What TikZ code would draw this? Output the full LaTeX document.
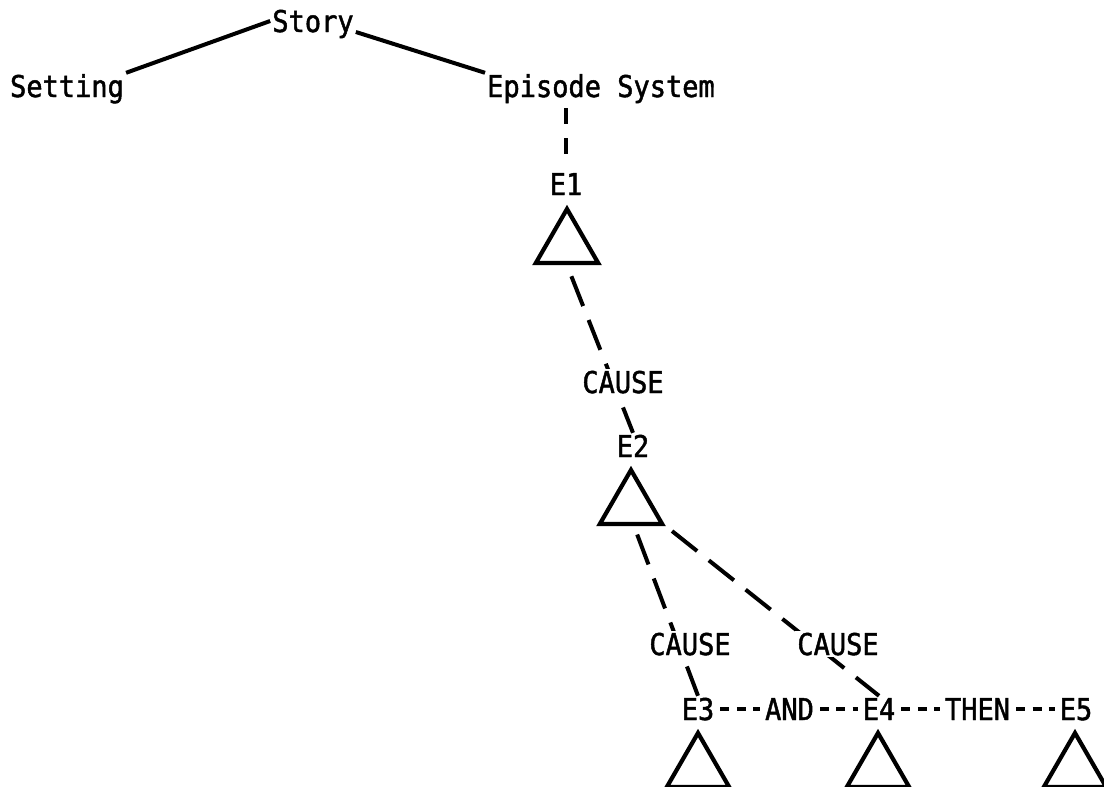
\documentclass[tikz,border=0pt]{standalone}
\usepackage{fontspec}
\setmainfont{DejaVu Sans Mono}[FakeStretch=0.9, FakeBold=1.5]
\usetikzlibrary{shapes.geometric}

\begin{document}
\begin{tikzpicture}[x=1pt,y=-1pt,
    lbl/.style={font=\fontsize{30}{34}\selectfont, text height=22pt, text depth=0pt, inner sep=2pt, anchor=base},
    tri/.style={draw, regular polygon, regular polygon sides=3, minimum size=72pt, inner sep=0pt, line width=4.2pt},
    link/.style={line width=4pt, dash pattern=on 32pt off 15pt},
    hyph/.style={line width=3.8pt, dash pattern=on 9pt off 7.3pt, shorten <=4pt, shorten >=3pt}]
    \useasboundingbox (0,0) rectangle (1104,787);

    % Top of the tree
    \node[lbl] (story) at (313,32) {Story};
    \node[lbl] (setting) at (67,97) {Setting};
    \node[lbl] (episodes) at (601,97) {Episode System};
    \draw[line width=4pt] (setting.north east) -- (story.west);
    \draw[line width=4pt] (story.base east) -- (episodes.north west);

    % Episodes and their triangles
    \node[lbl] (e1) at (566,195) {E1};
    \node[tri] (t1) at (567,245) {};
    \node[lbl] (e2) at (633,457) {E2};
    \node[tri] (t2) at (631,506) {};
    \node[lbl] (e3) at (698,720) {E3};
    \node[lbl] (and) at (789.5,720) {AND};
    \node[lbl] (e4) at (879,720) {E4};
    \node[lbl] (then) at (977.5,720) {THEN};
    \node[lbl] (e5) at (1076,720) {E5};
    \node[tri] (t3) at (698,769) {};
    \node[tri] (t4) at (878,769) {};
    \node[tri] (t5) at (1075,769) {};

    % Dashed links
    \draw[line width=4pt, dash pattern=on 16pt off 14pt, shorten <=9pt, shorten >=11pt]
        (e1.north |- episodes.south) -- (e1.north);
    \draw[link, shorten <=12pt] (t1.south) -- (e2.north);
    \draw[link, shorten <=9pt] ([xshift=3pt]t2.south) -- (e3.north);
    \draw[link, shorten <=8pt] (t2.corner 3) -- (e4.north);
    \draw[hyph] (e3.east) -- (and.west);
    \draw[hyph] (and.east) -- (e4.west);
    \draw[hyph] (e4.east) -- (then.west);
    \draw[hyph] (then.east) -- (e5.west);

    % Link labels
    \node[lbl, fill=white] (cause1) at (623,393) {CAUSE};
    \node[lbl, fill=white] (cause2) at (690,655) {CAUSE};
    \node[lbl, fill=white] (cause3) at (838,655) {CAUSE};
\end{tikzpicture}
\end{document}
